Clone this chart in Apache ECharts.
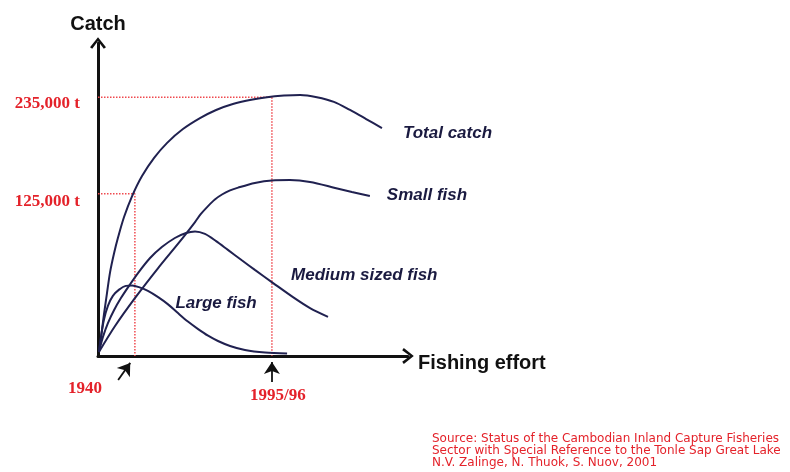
<!DOCTYPE html>
<html><head><meta charset="utf-8">
<script src="https://cdn.jsdelivr.net/npm/echarts@6/dist/echarts.min.js"></script>
<style>html,body{margin:0;padding:0;background:#fff}#c{width:790px;height:472px}</style>
</head><body><div id="c"></div>
<script>
// Conceptual curves: fishing effort and catch in index units (0-100)
const curveNames = ['Total catch', 'Small fish', 'Medium sized fish', 'Large fish'];

const totalEffort  = [0.3, 1.0, 1.9, 2.9, 3.9, 5.2, 6.5, 8.4, 11.0, 14.2, 18.1, 22.3, 27.4, 32.9, 38.1, 43.5, 49.0, 54.5, 60.0, 65.2, 70.6, 76.1, 81.3, 86.5, 91.6];
const totalCatch   = [1.3, 6.1, 13.1, 20.1, 26.8, 32.9, 38.0, 44.4, 51.1, 57.5, 63.3, 68.1, 72.5, 76.0, 78.6, 80.5, 81.8, 82.7, 83.2, 83.4, 82.7, 81.2, 78.6, 75.7, 72.8];

const smallEffort  = [0.3, 5.5, 11.9, 19.4, 26.5, 31.3, 33.2, 35.5, 37.7, 40.0, 42.6, 45.2, 50.6, 56.1, 61.9, 68.4, 76.5, 81.9, 87.7];
const smallCatch   = [1.3, 9.6, 18.5, 28.1, 36.7, 42.8, 45.4, 47.9, 50.0, 51.6, 52.9, 53.8, 55.3, 56.1, 56.2, 55.6, 53.7, 52.4, 51.1];

const mediumEffort = [0.3, 1.6, 3.2, 5.2, 7.4, 10.0, 12.9, 16.8, 20.6, 24.8, 28.4, 31.3, 34.5, 38.1, 41.9, 46.5, 50.6, 56.5, 62.9, 68.4, 74.2];
const mediumCatch  = [1.3, 6.1, 10.5, 14.7, 18.5, 22.4, 26.5, 31.3, 34.8, 37.7, 39.3, 39.8, 39.0, 36.7, 33.9, 30.5, 27.5, 23.3, 18.8, 15.3, 12.5];

const largeEffort  = [0.3, 1.0, 1.9, 3.2, 4.8, 6.8, 9.0, 11.0, 13.2, 16.1, 19.4, 22.6, 25.8, 29.0, 32.3, 35.5, 38.7, 42.6, 47.4, 53.9, 61.0];
const largeCatch   = [1.3, 6.4, 11.5, 16.0, 19.2, 21.2, 22.4, 22.5, 22.0, 20.8, 18.8, 16.5, 13.7, 11.0, 8.6, 6.5, 4.8, 3.2, 1.9, 1.1, 0.8];

// Reference levels (catch) and years (effort)
const levelLabels = ['235,000 t', '125,000 t'];
const levelCatch  = [82.7, 51.8];
const yearLabels  = ['1995/96', '1940'];
const yearEffort  = [56.1, 11.9];

const sourceLines = [
  'Source: Status of the Cambodian Inland Capture Fisheries',
  'Sector with Special Reference to the Tonle Sap Great Lake',
  'N.V. Zalinge, N. Thuok, S. Nuov, 2001'
];

const pairs = (xs, ys) => xs.map((x, i) => [x, ys[i]]);

const RED = '#e4222a';
const NAVY = '#202150';
const serifRed = { color: RED, fontFamily: 'Liberation Serif', fontWeight: 'bold', fontSize: 17 };
const italicLbl = { color: '#1a1a40', fontFamily: 'Liberation Sans', fontWeight: 'bold', fontStyle: 'italic', fontSize: 17, opacity: 1 };

const chevron = 'path://M0,10 L8,0 L16,10 L13.8,11.6 L8,3.8 L2.2,11.6 Z';

const curveStyle = { color: NAVY, width: 2 };
const SMOOTH = 0.3;

const levelLabelOffsets = [[0, 6], [0, 8]];
const yearLabelStyles = [
  { distance: 31, offset: [6, 0] },
  { distance: 24, offset: [-50, 0] }
];

const refSeries = levelCatch.map((lv, i) => ({
  type: 'line',
  clip: false,
  silent: true,
  symbol: 'circle',
  symbolSize: 0,
  showSymbol: true,
  showAllSymbol: true,
  lineStyle: { color: '#ef4a4f', width: 1.5, type: 'dotted' },
  itemStyle: { color: 'rgba(0,0,0,0)' },
  z: 1,
  data: [
    { value: [0, lv], label: Object.assign({ show: true, position: 'left', distance: 18, offset: levelLabelOffsets[i], formatter: levelLabels[i] }, serifRed) },
    { value: [yearEffort[i], lv] },
    { value: [yearEffort[i], 0], label: Object.assign({ show: true, position: 'bottom', formatter: yearLabels[i] }, yearLabelStyles[i], serifRed) }
  ]
}));

const curveSeries = (idx, xs, ys, endLabel) => ({
  name: curveNames[idx], type: 'line', smooth: SMOOTH, showSymbol: false, clip: false, z: 3,
  lineStyle: curveStyle, data: pairs(xs, ys),
  endLabel: endLabel ? Object.assign({ show: true, formatter: curveNames[idx] }, endLabel, italicLbl) : { show: false }
});

const option = {
  animation: false,
  backgroundColor: '#ffffff',
  title: {
    text: sourceLines.join('\n'),
    left: 432, top: 433, padding: 0,
    textStyle: { color: RED, fontFamily: 'DejaVu Sans', fontWeight: 'normal', fontSize: 12, lineHeight: 12 }
  },
  grid: { left: 98, right: 382, top: 43, bottom: 116, containLabel: false },
  xAxis: {
    type: 'value', min: 0, max: 100,
    name: 'Fishing effort', nameLocation: 'end', nameGap: 10,
    nameTextStyle: { color: '#111', fontFamily: 'Liberation Sans', fontWeight: 'bold', fontSize: 20, verticalAlign: 'top', lineHeight: 14 },
    axisLine: { show: true, onZero: true, lineStyle: { color: '#111', width: 3 }, symbol: ['none', chevron], symbolSize: [16, 13] },
    axisTick: { show: false }, axisLabel: { show: false }, splitLine: { show: false }
  },
  yAxis: {
    type: 'value', min: 0, max: 100,
    name: 'Catch', nameLocation: 'end', nameGap: 9,
    nameTextStyle: { color: '#111', fontFamily: 'Liberation Sans', fontWeight: 'bold', fontSize: 20, align: 'center' },
    axisLine: { show: true, onZero: true, lineStyle: { color: '#111', width: 3 }, symbol: ['none', chevron], symbolSize: [16, 13] },
    axisTick: { show: false }, axisLabel: { show: false }, splitLine: { show: false }
  },
  series: [
    ...refSeries,
    curveSeries(0, totalEffort, totalCatch, { distance: 21, offset: [0, 5] }),
    curveSeries(1, smallEffort, smallCatch, { distance: 17, offset: [0, -1] }),
    curveSeries(2, mediumEffort, mediumCatch, null),
    curveSeries(3, largeEffort, largeCatch, null),
    {
      type: 'scatter', clip: false, silent: true, symbolSize: 0,
      itemStyle: { opacity: 1, color: 'rgba(0,0,0,0)' },
      label: Object.assign({ show: true, position: 'inside', formatter: '{b}' }, italicLbl),
      data: [
        { name: curveNames[2], value: [85.9, 25.9] },
        { name: curveNames[3], value: [38.1, 16.9] }
      ]
    },
    {
      type: 'lines', coordinateSystem: 'cartesian2d', clip: false, silent: true, z: 4,
      symbol: ['none', 'arrow'], symbolSize: 12,
      lineStyle: { color: '#111', width: 1.8, opacity: 1, curveness: 0 },
      data: [
        { coords: [[yearEffort[0], -8.3], [yearEffort[0], -1.9]] },
        { coords: [[yearEffort[1] - 5.4, -7.7], [yearEffort[1] - 1.5, -2.2]] }
      ]
    }
  ]
};

const chart = echarts.init(document.getElementById('c'), null, { renderer: 'canvas' });
chart.setOption(option);
</script>
</body></html>
